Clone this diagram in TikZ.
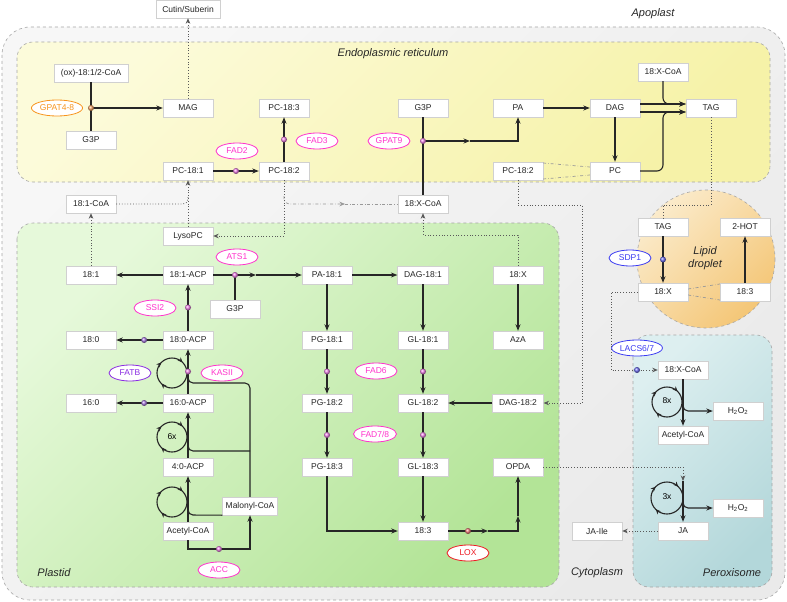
\documentclass[tikz,border=0pt]{standalone}
\usepackage{fontspec}
\setmainfont{Liberation Sans}
\usetikzlibrary{arrows.meta,shapes.geometric,decorations.markings}
\definecolor{linegray}{HTML}{262626}
\definecolor{boxline}{HTML}{D0D0D0}
\definecolor{regline}{HTML}{A6A6A6}
\definecolor{enzpink}{HTML}{FF33CC}
\definecolor{enzorange}{HTML}{F7941D}
\definecolor{enzblue}{HTML}{3B3BF2}
\definecolor{enzpurple}{HTML}{8A2BE2}
\definecolor{enzred}{HTML}{EE1C24}
\definecolor{dotpink}{HTML}{F080E8}
\definecolor{dotpurple}{HTML}{A878E0}
\definecolor{dotblue}{HTML}{6C6CF0}
\definecolor{dotorange}{HTML}{F5A060}
\definecolor{dotred}{HTML}{F07878}
\definecolor{cellA}{HTML}{F7F7F7}
\definecolor{cellB}{HTML}{EAEAEA}
\definecolor{erA}{HTML}{FCFBDA}
\definecolor{erB}{HTML}{F6F2A8}
\definecolor{plA}{HTML}{E6F9DA}
\definecolor{plB}{HTML}{B3E497}
\definecolor{pxA}{HTML}{DDEFF0}
\definecolor{pxB}{HTML}{B3D7DA}
\definecolor{ldA}{HTML}{FBEBCB}
\definecolor{ldB}{HTML}{F4C676}
\begin{document}
\begin{tikzpicture}[x=1pt,y=-1pt,
  font=\fontsize{8.5}{10}\selectfont,
  met/.style={draw=boxline, fill=white, minimum width=50pt, minimum height=18pt, inner xsep=6.5pt, inner ysep=3pt, text=black!85},
  enz/.style={ellipse, draw=#1, fill=white, text=#1, line width=0.8pt, minimum width=42pt, minimum height=16pt, inner sep=1pt},
  jdot/.style={circle, inner sep=0pt, minimum size=6pt, ball color=#1},
  jdot/.default=dotpink,
  flow/.style={draw=linegray, line width=1.1pt},
  arr/.style={flow, -{Stealth[length=6.5pt,width=5pt]}},
  dotln/.style={draw=black!65, dotted, line width=0.8pt},
  dotarr/.style={dotln, -{Stealth[length=5.5pt,width=4.5pt]}},
  ddln/.style={draw=black!40, dash dot, line width=0.7pt},
  ddarr/.style={ddln, -{Stealth[length=5.5pt,width=4.5pt]}},
  compart/.style={draw=regline, dashed, line width=0.6pt},
  reglabel/.style={font=\fontsize{11}{13}\selectfont\itshape, text=black!85},
  loopc/.style={flow, postaction={decorate}, decoration={markings,
    mark=at position 0.375 with {\arrow{Stealth[length=5pt,width=4.5pt]}},
    mark=at position 0.625 with {\arrow{Stealth[length=5pt,width=4.5pt]}},
    mark=at position 0.875 with {\arrow{Stealth[length=5pt,width=4.5pt]}}}},
]
\useasboundingbox (0,0) rectangle (787,602);

% compartments
\draw[compart, rounded corners=28pt, top color=cellA, bottom color=cellB, shading angle=45] (2,27) rectangle (785,600);
\draw[compart, rounded corners=16pt, top color=erA, bottom color=erB, shading angle=45] (17,42) rectangle (770,182);
\draw[compart, rounded corners=16pt, top color=plA, bottom color=plB, shading angle=45] (17,223) rectangle (559,587);
\draw[compart, rounded corners=16pt, top color=pxA, bottom color=pxB, shading angle=45] (633,335) rectangle (772,587);
\draw[compart, top color=ldA, bottom color=ldB, shading angle=45] (706,259) circle (69);

\node[reglabel] (lapo) at (653,14) {Apoplast};
\node[reglabel] (ler) at (393,54) {Endoplasmic reticulum};
\node[reglabel] (lpl) at (54,573) {Plastid};
\node[reglabel] (lcy) at (597,573) {Cytoplasm};
\node[reglabel] (lpx) at (732,573) {Peroxisome};
\node[reglabel, align=center] (lld) at (705,258) {Lipid\\droplet};

% ER
\node[met] (cutin) at (188,9) {Cutin/Suberin};
\node[met] (oxcoa) at (91,73) {(ox)-18:1/2-CoA};
\node[met] (g3pa) at (91,140) {G3P};
\node[met] (mag) at (188,108) {MAG};
\node[met] (pcA) at (188,171) {PC-18:1};
\node[met] (pcB) at (284,171) {PC-18:2};
\node[met] (pcC) at (284,108) {PC-18:3};
\node[met] (g3pb) at (423,108) {G3P};
\node[met] (pa) at (518,108) {PA};
\node[met] (pcD) at (518,171) {PC-18:2};
\node[met] (dag) at (615,108) {DAG};
\node[met] (pc) at (615,171) {PC};
\node[met] (xcoaA) at (663,72) {18:X-CoA};
\node[met] (tag) at (711,108) {TAG};

% cytoplasm
\node[met] (coa181) at (91,204) {18:1-CoA};
\node[met] (xcoaB) at (423,204) {18:X-CoA};

% plastid
\node[met] (lysopc) at (188,236) {LysoPC};
\node[met] (fa181) at (91,275) {18:1};
\node[met] (acp181) at (188,275) {18:1-ACP};
\node[met] (g3pc) at (235,309) {G3P};
\node[met] (pa181) at (327,275) {PA-18:1};
\node[met] (dag181) at (423,275) {DAG-18:1};
\node[met] (fxp) at (518,275) {18:X};
\node[met] (fa180) at (91,340) {18:0};
\node[met] (acp180) at (188,340) {18:0-ACP};
\node[met] (pg181) at (327,340) {PG-18:1};
\node[met] (gl181) at (423,340) {GL-18:1};
\node[met] (aza) at (518,340) {AzA};
\node[met] (fa160) at (91,403) {16:0};
\node[met] (acp160) at (188,403) {16:0-ACP};
\node[met] (pg182) at (327,403) {PG-18:2};
\node[met] (gl182) at (423,403) {GL-18:2};
\node[met] (dag182) at (518,403) {DAG-18:2};
\node[met] (acp40) at (188,467) {4:0-ACP};
\node[met] (pg183) at (327,467) {PG-18:3};
\node[met] (gl183) at (423,467) {GL-18:3};
\node[met] (opda) at (518,467) {OPDA};
\node[met, inner xsep=3pt] (malcoa) at (250,506) {Malonyl-CoA};
\node[met, inner xsep=4pt] (accoaP) at (188,531) {Acetyl-CoA};
\node[met] (fa183) at (423,531) {18:3};

% lipid droplet
\node[met] (tagL) at (663,227) {TAG};
\node[met] (hot) at (745,227) {2-HOT};
\node[met] (fxL) at (663,292) {18:X};
\node[met] (fa183L) at (745,292) {18:3};

% peroxisome
\node[met] (xcoaP) at (683,370) {18:X-CoA};
\node[met] (h2o2a) at (738,411) {H\textsubscript{2}O\textsubscript{2}};
\node[met, inner xsep=4pt] (accoaX) at (683,435) {Acetyl-CoA};
\node[met] (h2o2b) at (738,508) {H\textsubscript{2}O\textsubscript{2}};
\node[met] (ja) at (683,531) {JA};
\node[met] (jaile) at (597,531) {JA-Ile};

% enzymes
\node[enz=enzorange, minimum width=44pt] (gpat48) at (57,108) {GPAT4-8};
\node[enz=enzpink] (fad2) at (237,151) {FAD2};
\node[enz=enzpink] (fad3) at (317,141) {FAD3};
\node[enz=enzpink] (gpat9) at (389,141) {GPAT9};
\node[enz=enzpink] (ats1) at (237,257) {ATS1};
\node[enz=enzpink] (ssi2) at (155,308) {SSI2};
\node[enz=enzpurple] (fatb) at (130,373) {FATB};
\node[enz=enzpink] (kasii) at (222,373) {KASII};
\node[enz=enzpink] (fad6) at (376,371) {FAD6};
\node[enz=enzpink] (fad78) at (375,434) {FAD7/8};
\node[enz=enzpink] (acc) at (219,570) {ACC};
\node[enz=enzred] (lox) at (468,553) {LOX};
\node[enz=enzblue] (sdp1) at (630,258) {SDP1};
\node[enz=enzblue] (lacs) at (637,348) {LACS6/7};

% ER connectors
\coordinate (jg) at (91,108);
\draw[flow] (oxcoa) -- (g3pa);
\draw[arr] (jg) -- (mag);
\node[jdot=dotorange] (dg) at (jg) {};
\draw[dotarr] (mag) -- (cutin);
\draw[arr] (pcA) -- node[jdot] (dfad2) {} (pcB);
\draw[arr] (pcB) -- node[jdot] (dfad3) {} (pcC);
\coordinate (jg9) at (423,141);
\coordinate (mg9) at (470,141);
\draw[flow] (g3pb) -- (xcoaB);
\draw[arr] (jg9) -- (mg9);
\draw[arr] (mg9) -| (pa);
\node[jdot] (dg9) at (jg9) {};
\draw[arr] (pa) -- (dag);
\draw[arr] (dag) -- (pc);
\coordinate (tagu) at ([yshift=4pt]tag.west);
\coordinate (tagd) at ([yshift=-4pt]tag.west);
\draw[arr] ([yshift=4pt]dag.east) -- (tagu);
\draw[arr] ([yshift=-4pt]dag.east) -- (tagd);
\draw[arr, rounded corners=6pt] (xcoaA) |- (tagu);
\draw[arr, rounded corners=6pt] (pc.east) -- (663,171) -- (663,112) -- (tagd);
\draw[ddln] ([yshift=8pt]pcD.east) -- ([yshift=4pt]pc.west);
\draw[ddln] ([yshift=-8pt]pcD.east) -- ([yshift=-4pt]pc.west);
\draw[dotln] (tag) -- (711,205) -- (663,205) -- (tagL);

% cytoplasm connectors
\draw[dotarr] (fa181) -- (coa181);
\draw[dotln, rounded corners=5pt] (coa181) -- (188,204) -- (188,196);
\draw[dotarr] (lysopc) -- (pcA);
\draw[dotarr] (pcB.south) |- (lysopc.east);
\coordinate (mx) at (345,204);
\draw[ddarr, rounded corners=5pt] (284,196) -- (284,204) -- (mx);
\draw[ddln] (mx) -- (xcoaB);
\draw[dotarr] (fxp.north) -- (518,235) -| (xcoaB.south);
\draw[dotarr] (pcD.south) -- (518,205) -- (582,205) -- (582,403) -- (dag182.east);

% plastid connectors
\draw[arr] (acp181) -- (fa181);
\coordinate (ja1) at (235,275);
\coordinate (ma1) at (256,275);
\draw[arr] (acp181) -- (ma1);
\draw[arr] (ma1) -- (pa181);
\draw[flow] (g3pc) -- (ja1);
\node[jdot] (da1) at (ja1) {};
\draw[arr] (pa181) -- (dag181);
\draw[arr] (pa181) -- (pg181);
\draw[arr] (dag181) -- (gl181);
\draw[arr] (fxp) -- (aza);
\draw[arr] (pg181) -- node[jdot] (dpg1) {} (pg182);
\draw[arr] (gl181) -- node[jdot] (dgl1) {} (gl182);
\draw[arr] (pg182) -- node[jdot] (dpg2) {} (pg183);
\draw[arr] (gl182) -- node[jdot] (dgl2) {} (gl183);
\draw[arr] (dag182) -- (gl182);
\draw[arr] (gl183) -- (fa183);
\draw[arr] (pg183) |- (fa183);
\coordinate (jl) at (468,531);
\coordinate (ml) at (488,531);
\coordinate (mo) at (518,516);
\draw[arr] (fa183) -- (ml);
\draw[arr] (ml) -| (mo);
\draw[arr] (mo) -- (opda);
\node[jdot=dotred] (dl) at (jl) {};

% fatty acid synthesis
\draw[flow, rounded corners=5pt] (malcoa.north) -- (250,383) -- (188,383) -- (188,372);
\draw[flow, rounded corners=5pt] (250,451) -- (188,451) -- (188,441);
\draw[flow, rounded corners=5pt] (malcoa.south west) -- (188,515) -- (188,505);
\draw[loopc] (172,373) circle (15);
\draw[loopc] (172,437) circle (15);
\draw[loopc] (172,502) circle (15);
\node (six) at (172,437) {6x};
\draw[arr] (acp180) -- node[jdot] (dssi2) {} (acp181);
\draw[arr] (acp180) -- node[jdot=dotpurple, pos=0.4] (dfatb1) {} (fa180);
\draw[arr] (acp160) -- node[jdot] (dkas) {} (acp180);
\draw[arr] (acp160) -- node[jdot=dotpurple, pos=0.4] (dfatb2) {} (fa160);
\draw[arr] (acp40) -- (acp160);
\draw[arr] (accoaP) -- (acp40);
\draw[arr] (accoaP.south) -- (188,549) -- (250,549) -- (malcoa.south);
\node[jdot] (dacc) at (219,549) {};

% lipid droplet and peroxisome
\draw[arr] (tagL) -- node[jdot=dotblue] (dsdp) {} (fxL);
\draw[arr] (fa183L) -- (hot);
\draw[ddln] ([yshift=3pt]fxL.east) -- ([yshift=8pt]fa183L.west);
\draw[ddln] ([yshift=-3pt]fxL.east) -- ([yshift=-8pt]fa183L.west);
\draw[dotarr] (fxL.west) -- (611,292) -- (611,370) -- (xcoaP.west);
\node[jdot=dotblue] (dlacs) at (637,370) {};
\draw[arr] (xcoaP) -- (accoaX);
\draw[arr, rounded corners=5pt] (683,401) -- (683,411) -- (h2o2a);
\draw[loopc] (667,402) circle (15);
\node (eight) at (667,401) {8x};
\coordinate (jtop) at (683,481);
\draw[dotarr] (opda) -| (jtop);
\draw[arr] (jtop) -- (ja);
\draw[arr, rounded corners=5pt] (683,498) -- (683,508) -- (h2o2b);
\draw[loopc] (667,498) circle (16);
\node (three) at (667,497) {3x};
\draw[dotarr] (ja) -- (jaile);
\end{tikzpicture}
\end{document}
